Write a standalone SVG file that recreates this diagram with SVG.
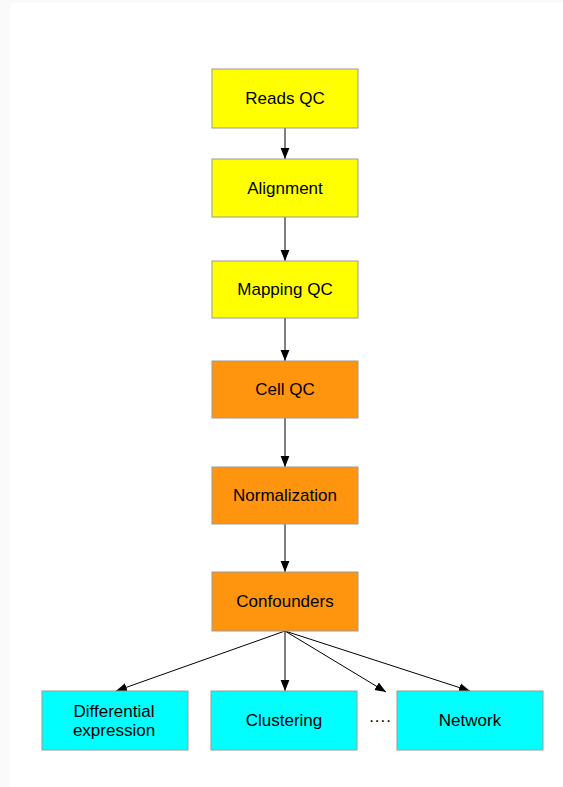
<svg xmlns="http://www.w3.org/2000/svg" width="563" height="787" viewBox="0 0 563 787">
<style>
.box{stroke:#9a9a9a;stroke-width:1}
.y{fill:#ffff00}
.o{fill:#ff950e}
.c{fill:#00ffff}
text{font-family:"Liberation Sans",Arial,sans-serif;font-size:17px;fill:#000;text-anchor:middle;dominant-baseline:central}
.conn line{stroke:#000;stroke-width:1}
</style>
<defs>
<marker id="ah" viewBox="0 0 10 10" refX="10" refY="5" markerWidth="11" markerHeight="11" markerUnits="userSpaceOnUse" orient="auto">
<path d="M0,1 L10,5 L0,9 Z" fill="#000"/>
</marker>
</defs>
<rect x="0" y="0" width="563" height="787" fill="#fafafa"/>
<rect x="10" y="3" width="553" height="784" fill="#ffffff"/>
<g class="conn">
<line x1="285" y1="128" x2="285" y2="159" marker-end="url(#ah)"/>
<line x1="285" y1="217" x2="285" y2="261" marker-end="url(#ah)"/>
<line x1="285" y1="318" x2="285" y2="361" marker-end="url(#ah)"/>
<line x1="285" y1="418" x2="285" y2="467" marker-end="url(#ah)"/>
<line x1="285" y1="524" x2="285" y2="572" marker-end="url(#ah)"/>
<line x1="285" y1="631" x2="116" y2="691" marker-end="url(#ah)"/>
<line x1="285" y1="631" x2="285" y2="691" marker-end="url(#ah)"/>
<line x1="285" y1="631" x2="386" y2="692" marker-end="url(#ah)"/>
<line x1="285" y1="631" x2="470" y2="691" marker-end="url(#ah)"/>
</g>
<g id="reads-qc"><rect class="box y" x="212" y="69" width="146" height="59"/><text x="285" y="98.5">Reads QC</text></g>
<g id="alignment"><rect class="box y" x="212" y="159" width="146" height="58"/><text x="285" y="188">Alignment</text></g>
<g id="mapping-qc"><rect class="box y" x="212" y="261" width="146" height="57"/><text x="285" y="289.5">Mapping QC</text></g>
<g id="cell-qc"><rect class="box o" x="212" y="361" width="146" height="57"/><text x="285" y="389.5">Cell QC</text></g>
<g id="normalization"><rect class="box o" x="212" y="467" width="146" height="57"/><text x="285" y="495.5">Normalization</text></g>
<g id="confounders"><rect class="box o" x="212" y="572" width="146" height="59"/><text x="285" y="601.5">Confounders</text></g>
<g id="differential-expression"><rect class="box c" x="42" y="691" width="146" height="59"/><text x="114" y="711">Differential</text><text x="114" y="730">expression</text></g>
<g id="clustering"><rect class="box c" x="211" y="691" width="146" height="59"/><text x="284" y="720.5">Clustering</text></g>
<g id="network"><rect class="box c" x="397" y="691" width="146" height="59"/><text x="470" y="720.5">Network</text></g>
<text x="380" y="720.5">····</text>
</svg>
